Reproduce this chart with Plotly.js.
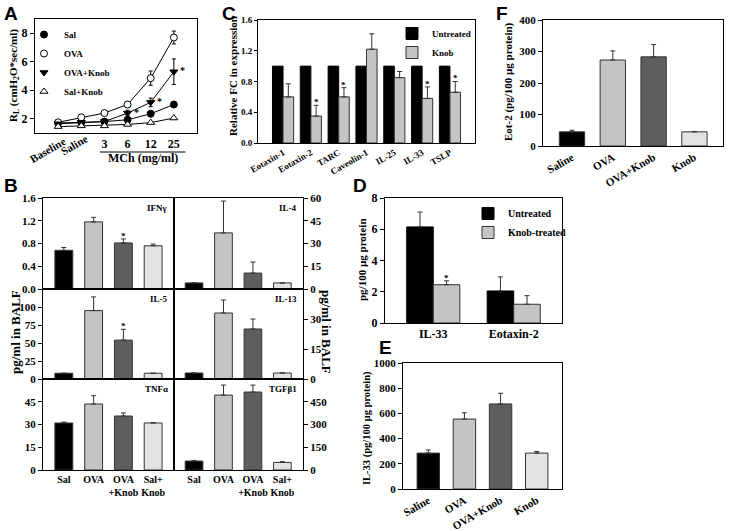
<!DOCTYPE html>
<html><head><meta charset="utf-8">
<script src="https://cdn.plot.ly/plotly-3.0.1.min.js"></script>
<style>html,body{margin:0;padding:0;background:#fff}#chart{width:729px;height:531px}</style>
</head><body><div id="chart"></div>
<script>
// ---------- Panel A data ----------
const aCats = ['Baseline','Saline','3','6','12','25'];
const aSal = [1.7,1.75,1.8,1.93,2.35,3.0];
const aSalErr = [0.06,0.06,0.06,0.1,0.12,0.2];
const aOVA = [1.75,2.1,2.4,3.0,4.85,7.7];
const aOVAErr = [0.08,0.08,0.1,0.2,0.5,0.45];
const aOVAKnob = [1.65,1.75,1.8,2.4,3.15,5.3];
const aOVAKnobErr = [0.06,0.06,0.1,0.2,0.3,0.9];
const aSalKnob = [1.45,1.5,1.5,1.6,1.73,2.05];
const aSalKnobErr = [0.04,0.04,0.04,0.05,0.05,0.06];
// ---------- Panel B data ----------
const bGroups = ['Sal','OVA','OVA<br>+Knob','Sal+<br>Knob'];
const ifng = [0.68,1.18,0.81,0.76];      const ifngErr = [0.05,0.08,0.07,0.03];
const il4 = [4,37,10.5,4];                const il4Err = [0,21,7.3,0];
const il5 = [8,95,54,8];                  const il5Err = [0,19,15,0];
const il13 = [3,33,25,3];                 const il13Err = [0,6.5,5,0];
const tnfa = [31,43.5,35.6,31];           const tnfaErr = [0.6,5.5,2,0.3];
const tgfb = [59,494,514,50];             const tgfbErr = [4,66,46,5];
// ---------- Panel C data ----------
const cCats = ['Eotaxin-1','Eotaxin-2','TARC','Caveolin-1','IL-25','IL-33','TSLP'];
const cUntreated = [1,1,1,1,1,1,1];
const cKnob = [0.6,0.35,0.6,1.22,0.85,0.58,0.66];
const cKnobErr = [0.17,0.14,0.12,0.2,0.08,0.15,0.14];
const cStars = [false,true,true,false,false,true,true];
// ---------- Panel D data ----------
const dCats = ['IL-33','Eotaxin-2'];
const dUntreated = [6.15,2.05]; const dUntreatedErr = [0.95,0.9];
const dKnob = [2.45,1.2];       const dKnobErr = [0.25,0.55];
// ---------- Panel E / F data ----------
const efCats = ['Saline','OVA','OVA+Knob','Knob'];
const eVals = [285,555,675,285]; const eErr = [25,50,85,13];
const fVals = [45,273,283,45];   const fErr = [5,29,39,1];

const groupColors = ['#000000','#c4c4c4','#5e5e5e','#e2e2e2'];
const SERIF = 'Liberation Serif, Times New Roman, serif';
const SANS = 'Liberation Sans, Arial, sans-serif';
const bf = (s) => ({family: SERIF, size: s, color: '#000', weight: 'bold'});
const idx = (arr) => arr.map((_, i) => i);
const W = 729, H = 531;
const px = (v) => v / W, py = (v) => 1 - v / H;

const traces = [];
// Panel A traces
const aSeries = [
  {name:'Sal', y:aSal, e:aSalErr, sym:'circle', fill:'#000'},
  {name:'OVA', y:aOVA, e:aOVAErr, sym:'circle', fill:'#fff'},
  {name:'OVA+Knob', y:aOVAKnob, e:aOVAKnobErr, sym:'triangle-down', fill:'#000'},
  {name:'Sal+Knob', y:aSalKnob, e:aSalKnobErr, sym:'triangle-up', fill:'#fff'}
];
aSeries.forEach(s => {
  traces.push({type:'scatter', mode:'lines', x:idx(aCats), y:s.y, xaxis:'x', yaxis:'y',
    line:{color:'#000', width:1}, showlegend:false, hoverinfo:'skip'});
});
aSeries.forEach(s => {
  traces.push({type:'scatter', mode:'markers', name:s.name, x:idx(aCats), y:s.y, xaxis:'x', yaxis:'y',
    legend:'legend',
    marker:{symbol:s.sym, size:7, color:s.fill, line:{color:'#000', width:1}},
    error_y:{type:'data', array:s.e, color:'#000', thickness:1, width:2}});
});

function errUp(arr, color) {
  return {type:'data', array:arr, arrayminus:arr.map(()=>0), symmetric:false,
    color:color || '#333', thickness:1, width:2.5};
}
function groupBar(vals, err, xa, ya, width) {
  return {type:'bar', x:idx(vals), y:vals, xaxis:xa, yaxis:ya, width:width,
    marker:{color:groupColors, line:{color:'#333', width:1}},
    error_y: errUp(err), showlegend:false, hoverinfo:'skip'};
}
// Panel B
traces.push(groupBar(ifng, ifngErr, 'x2', 'y2', 0.6));
traces.push(groupBar(il4, il4Err, 'x3', 'y3', 0.6));
traces.push(groupBar(il5, il5Err, 'x4', 'y4', 0.6));
traces.push(groupBar(il13, il13Err, 'x5', 'y5', 0.6));
traces.push(groupBar(tnfa, tnfaErr, 'x6', 'y6', 0.6));
traces.push(groupBar(tgfb, tgfbErr, 'x7', 'y7', 0.6));
// Panel C
traces.push({type:'bar', name:'Untreated', x:idx(cCats), y:cUntreated, xaxis:'x8', yaxis:'y8',
  width:0.38, offset:-0.38, legend:'legend2',
  marker:{color:'#000', line:{color:'#000', width:1}}, hoverinfo:'skip'});
traces.push({type:'bar', name:'Knob', x:idx(cCats), y:cKnob, xaxis:'x8', yaxis:'y8',
  width:0.38, offset:0, legend:'legend2',
  marker:{color:'#c4c4c4', line:{color:'#333', width:1}}, error_y:errUp(cKnobErr), hoverinfo:'skip'});
// Panel D
traces.push({type:'bar', name:'Untreated', x:idx(dCats), y:dUntreated, xaxis:'x9', yaxis:'y9',
  width:0.33, offset:-0.33, legend:'legend3',
  marker:{color:'#000', line:{color:'#000', width:1}}, error_y:errUp(dUntreatedErr), hoverinfo:'skip'});
traces.push({type:'bar', name:'Knob-treated', x:idx(dCats), y:dKnob, xaxis:'x9', yaxis:'y9',
  width:0.33, offset:0, legend:'legend3',
  marker:{color:'#c4c4c4', line:{color:'#333', width:1}}, error_y:errUp(dKnobErr), hoverinfo:'skip'});
// Panel E, F
traces.push(groupBar(eVals, eErr, 'x10', 'y10', 0.62));
traces.push(groupBar(fVals, fErr, 'x11', 'y11', 0.62));

// ---------- axes ----------
function xa(dom, anchor, range, opts) {
  return Object.assign({domain:dom, anchor:anchor, range:range, showline:true, mirror:true,
    linecolor:'#000', linewidth:1, showgrid:false, zeroline:false, ticks:'',
    tickfont:bf(11), fixedrange:true}, opts || {});
}
function ya(dom, anchor, range, tickvals, ticktext, opts) {
  return Object.assign({domain:dom, anchor:anchor, range:range, showline:true, mirror:true,
    linecolor:'#000', linewidth:1, showgrid:false, zeroline:false, ticks:'outside', ticklen:4,
    tickcolor:'#000', tickvals:tickvals, ticktext:ticktext, tickfont:bf(11), fixedrange:true}, opts || {});
}
const bLeft = [px(43), px(174)], bRight = [px(174), px(303)];
const r1 = [py(289), py(198)], r2 = [py(379), py(289)], r3 = [py(470), py(379)];
const f1 = (a) => a.map(v => v.toFixed(1));
const noLab = {showticklabels:false};

const layout = {
  width:W, height:H, margin:{l:0,r:0,t:0,b:0}, paper_bgcolor:'#fff', plot_bgcolor:'rgba(0,0,0,0)',
  barmode:'overlay', showlegend:true,
  font:{family:SERIF, color:'#000'},
  xaxis: xa([px(35), px(197)], 'y', [-1, 6], {tickvals:[2,3,4,5], ticktext:aCats.slice(2), tickfont:bf(12), tickangle:0}),
  yaxis: ya([py(133), py(19)], 'x', [1, 9], [2,4,6,8], ['2','4','6','8'], {tickfont:bf(12)}),
  xaxis2: xa(bLeft, 'y2', [-0.7, 3.7], noLab),
  yaxis2: ya(r1, 'x2', [0, 1.6], [0,0.4,0.8,1.2,1.6], f1([0,0.4,0.8,1.2,1.6])),
  xaxis3: xa(bRight, 'y3', [-0.68, 3.7], noLab),
  yaxis3: ya(r1, 'x3', [0, 60], [0,15,30,45,60], ['0','15','30','45','60'], {side:'right'}),
  xaxis4: xa(bLeft, 'y4', [-0.7, 3.7], noLab),
  yaxis4: ya(r2, 'x4', [0, 125], [0,25,50,75,100], ['0','25','50','75','100']),
  xaxis5: xa(bRight, 'y5', [-0.68, 3.7], noLab),
  yaxis5: ya(r2, 'x5', [0, 45], [0,15,30], ['0','15','30'], {side:'right'}),
  xaxis6: xa(bLeft, 'y6', [-0.7, 3.7], {tickvals:idx(bGroups), ticktext:bGroups, tickfont:bf(10), tickangle:0}),
  yaxis6: ya(r3, 'x6', [0, 60], [0,15,30,45], ['0','15','30','45']),
  xaxis7: xa(bRight, 'y7', [-0.68, 3.7], {tickvals:idx(bGroups), ticktext:bGroups, tickfont:bf(10), tickangle:0}),
  yaxis7: ya(r3, 'x7', [0, 600], [0,150,300,450], ['0','150','300','450'], {side:'right'}),
  xaxis8: xa([px(258), px(475)], 'y8', [-0.9, 6.9], {tickvals:idx(cCats), ticktext:cCats, tickangle:-30, tickfont:bf(9)}),
  yaxis8: ya([py(143), py(20)], 'x8', [0, 1.6], [0,0.4,0.8,1.2,1.6], f1([0,0.4,0.8,1.2,1.6]), {tickfont:bf(9), ticklen:3}),
  xaxis9: xa([px(385), px(562)], 'y9', [-0.6, 1.6], {tickvals:idx(dCats), ticktext:dCats, tickfont:bf(12), tickangle:0}),
  yaxis9: ya([py(323), py(198)], 'x9', [0, 8], [0,2,4,6,8], ['0','2','4','6','8'], {tickfont:bf(12)}),
  xaxis10: xa([px(403), px(562)], 'y10', [-0.7, 3.7], {tickvals:idx(efCats), ticktext:efCats, tickangle:-30, tickfont:bf(11)}),
  yaxis10: ya([py(489), py(363)], 'x10', [0, 1000], [0,200,400,600,800,1000], ['0','200','400','600','800','1000']),
  xaxis11: xa([px(543), px(723)], 'y11', [-0.71, 3.7], {tickvals:idx(efCats), ticktext:efCats, tickangle:-30, tickfont:bf(11)}),
  yaxis11: ya([py(146), py(20)], 'x11', [0, 400], [0,100,200,300,400], ['0','100','200','300','400']),
  legend: {x:px(24), y:py(20), xanchor:'left', yanchor:'top', font:bf(9), bgcolor:'rgba(0,0,0,0)', itemwidth:30, tracegroupgap:0},
  legend2: {x:px(392), y:py(19), xanchor:'left', yanchor:'top', font:bf(9), bgcolor:'rgba(0,0,0,0)', itemwidth:30},
  legend3: {x:px(468), y:py(199), xanchor:'left', yanchor:'top', font:bf(10), bgcolor:'rgba(0,0,0,0)', itemwidth:30},
  shapes: [
    {type:'line', xref:'x', yref:'paper', x0:1.8, x1:5.5, y0:py(152), y1:py(152), line:{color:'#000', width:1}}
  ],
  annotations: []
};

const ann = layout.annotations;
function addText(text, x, y, opts) {
  ann.push(Object.assign({text:text, x:x, y:y, xref:'paper', yref:'paper', showarrow:false,
    xanchor:'center', yanchor:'middle', font:bf(11)}, opts || {}));
}
// Panel letters
[['A',11,13],['B',11,185],['C',229,13],['D',360,185],['E',385,347],['F',502,13]].forEach(p => {
  addText(p[0], px(p[1]), py(p[2]), {font:{family:SANS, size:19, weight:'bold', color:'#000'}});
});
// Panel A rotated category labels
addText(aCats[0], 0, py(135), {xref:'x', xanchor:'right', yanchor:'top', textangle:-30, xshift:12, yshift:3, font:bf(11)});
addText(aCats[1], 1, py(133), {xref:'x', xanchor:'right', yanchor:'top', textangle:-30, xshift:11, yshift:3, font:bf(11)});
addText('MCh (mg/ml)', 3.65, py(158), {xref:'x', font:bf(12)});
// Panel A asterisks
[3,4,5].forEach(i => addText('*', i, aOVAKnob[i], {xref:'x', yref:'y', xshift:9, yshift:1, font:bf(10)}));
// Axis titles
addText('R<sub>L</sub> (cmH<sub>2</sub>O*sec/ml)', px(14), py(76), {textangle:-90, font:bf(11)});
addText('pg/ml in BALF', px(15), py(332), {textangle:-90, font:bf(13)});
addText('pg/ml in BALF', px(327), py(332), {textangle:90, font:bf(13)});
addText('Relative FC in expression', px(233), py(76), {textangle:-90, font:bf(11)});
addText('pg/100 µg protein', px(362), py(260), {textangle:-90, font:bf(11)});
addText('IL-33 (pg/100 µg protein)', px(367), py(428), {textangle:-90, font:bf(10.5)});
addText('Eot-2 (pg/100 µg protein)', px(508), py(82), {textangle:-90, font:bf(11)});
// Panel B labels
[['IFNγ','x2','y2'],['IL-4','x3','y3'],['IL-5','x4','y4'],['IL-13','x5','y5'],['TNFα','x6','y6'],['TGFβ1','x7','y7']].forEach(l => {
  ann.push({text:l[0], xref:l[1]+' domain', yref:l[2]+' domain', x:0.97, y:0.97, xanchor:'right', yanchor:'top',
    showarrow:false, font:bf(9)});
});
// Panel B asterisks
ann.push({text:'*', xref:'x2', yref:'y2', x:2, y:ifng[2]+ifngErr[2], yanchor:'bottom', yshift:-4, showarrow:false, font:bf(9)});
ann.push({text:'*', xref:'x4', yref:'y4', x:2, y:il5[2]+il5Err[2], yanchor:'bottom', yshift:-4, showarrow:false, font:bf(9)});
// Panel C asterisks
cCats.forEach((c, i) => {
  if (cStars[i]) ann.push({text:'*', xref:'x8', yref:'y8', x:i+0.19, y:cKnob[i]+cKnobErr[i], yanchor:'bottom', yshift:-4, showarrow:false, font:bf(9)});
});
// Panel D asterisk
ann.push({text:'*', xref:'x9', yref:'y9', x:0.165, y:dKnob[0]+dKnobErr[0], yanchor:'bottom', yshift:-4, showarrow:false, font:bf(9)});

Plotly.newPlot('chart', traces, layout, {staticPlot:true, displayModeBar:false});
</script>
</body></html>
